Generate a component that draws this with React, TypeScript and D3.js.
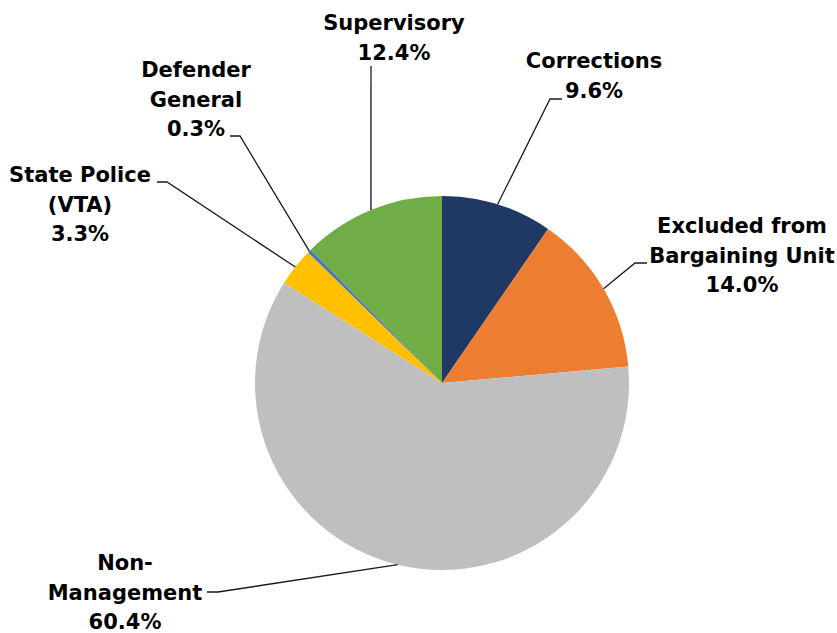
import React from "react";
import * as d3 from "d3";

const categories = [
  "Corrections",
  "Excluded from Bargaining Unit",
  "Non-Management",
  "State Police (VTA)",
  "Defender General",
  "Supervisory",
];
const values = [9.6, 14.0, 60.4, 3.3, 0.3, 12.4];
const labelLines = [
  ["Corrections"],
  ["Excluded from", "Bargaining Unit"],
  ["Non-", "Management"],
  ["State Police", "(VTA)"],
  ["Defender", "General"],
  ["Supervisory"],
];
const colors = ["#203864", "#ED7D31", "#BFBFBF", "#FFC000", "#4472C4", "#70AD47"];

// layout: label centre x, first baseline y, elbow point (end of horizontal tick) and tick start
const layout = [
  { x: 594, y: 68, elbow: [550, 99], tick: [562, 99] },
  { x: 742, y: 233, elbow: [635, 263], tick: [647, 263] },
  { x: 125, y: 570, elbow: [218, 592], tick: [207, 592] },
  { x: 80, y: 182, elbow: [167, 182], tick: [157, 182] },
  { x: 196, y: 77, elbow: [240, 136], tick: [230, 136] },
  { x: 394, y: 30, elbow: [371, 66], tick: null },
];

const W = 837;
const H = 633;
const cx = 442;
const cy = 383;
const R = 187;
const lineH = 29.5;

export default function App() {
  const data = categories.map((c, i) => ({ c, v: values[i], i }));
  const pie = d3.pie<any>().sort(null).value((d: any) => d.v).startAngle(0).endAngle(2 * Math.PI);
  const arcs = pie(data);
  const arc = d3.arc<any>().innerRadius(0).outerRadius(R);

  return (
    <svg
      width={W}
      height={H}
      style={{ position: "absolute", left: 0, top: 0, background: "#fff" }}
      fontFamily="'DejaVu Sans', sans-serif"
      fontWeight="bold"
      fontSize={21}
    >
      <g transform={`translate(${cx},${cy})`}>
        {arcs.map((a, i) => (
          <path key={i} d={arc(a) as string} fill={colors[i]} />
        ))}
      </g>
      {arcs.map((a, i) => {
        const mid = (a.startAngle + a.endAngle) / 2;
        const px = cx + R * Math.sin(mid);
        const py = cy - R * Math.cos(mid);
        const L = layout[i];
        const pts: number[][] = [[px, py], L.elbow];
        if (L.tick) pts.push(L.tick);
        const lines = [...labelLines[i], `${values[i].toFixed(1)}%`];
        return (
          <g key={i}>
            <polyline
              points={pts.map((p) => p.join(",")).join(" ")}
              fill="none"
              stroke="#1a1a1a"
              strokeWidth={1.3}
            />
            <text x={L.x} y={L.y} textAnchor="middle" fill="#000">
              {lines.map((t, j) => (
                <tspan key={j} x={L.x} y={L.y + j * lineH}>
                  {t}
                </tspan>
              ))}
            </text>
          </g>
        );
      })}
    </svg>
  );
}
